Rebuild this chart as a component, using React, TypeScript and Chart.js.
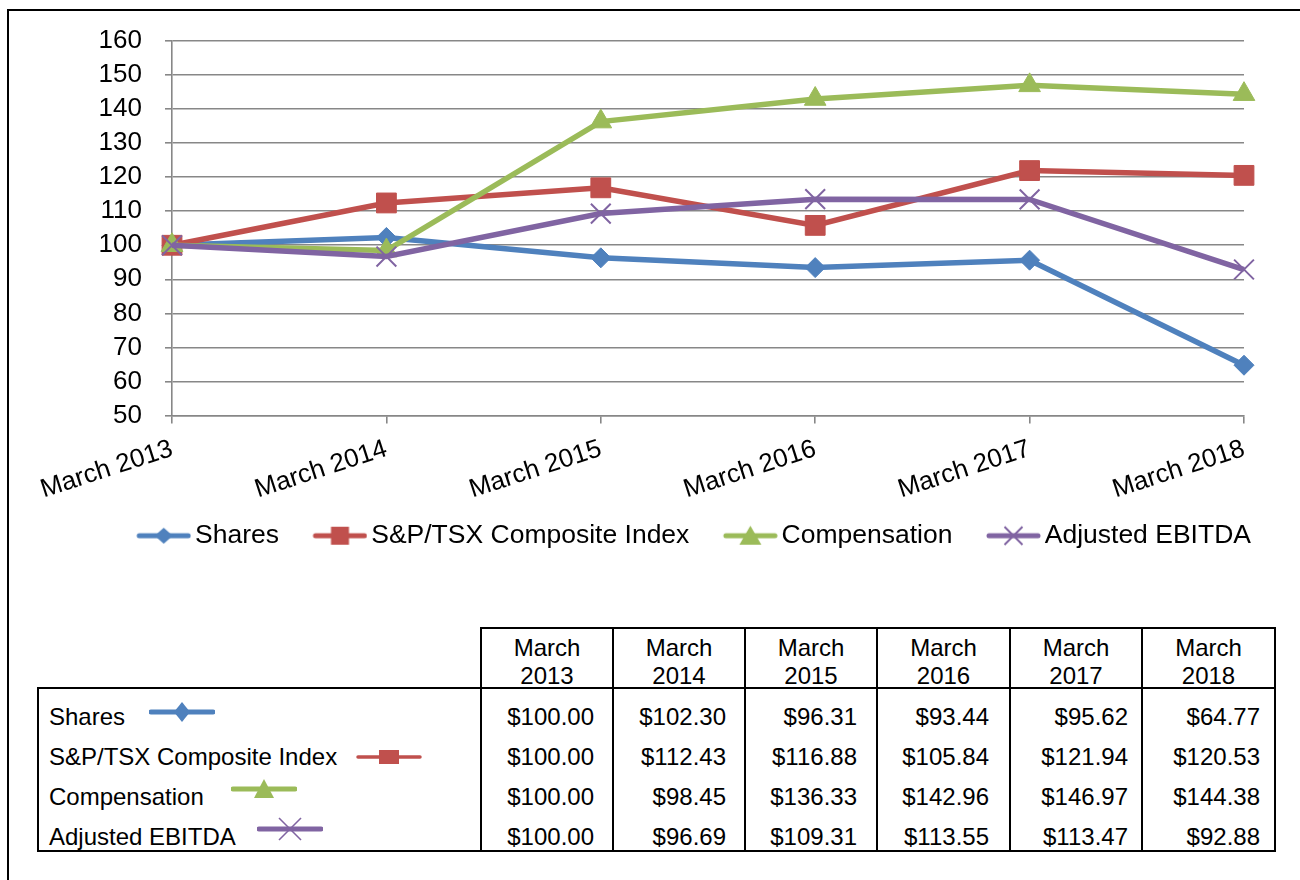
import { useEffect, useRef } from 'react';
import { Chart, registerables } from 'chart.js';

Chart.register(...registerables);

// ---------- data ----------
const categories = ['March 2013', 'March 2014', 'March 2015', 'March 2016', 'March 2017', 'March 2018'];
const seriesNames = ['Shares', 'S&P/TSX Composite Index', 'Compensation', 'Adjusted EBITDA'];
const shares = [100.0, 102.3, 96.31, 93.44, 95.62, 64.77];
const spTsx = [100.0, 112.43, 116.88, 105.84, 121.94, 120.53];
const compensation = [100.0, 98.45, 136.33, 142.96, 146.97, 144.38];
const adjustedEbitda = [100.0, 96.69, 109.31, 113.55, 113.47, 92.88];
const yTicksMin = 50;
const yTicksMax = 160;
const yTicksStep = 10;

// ---------- styles ----------
const seriesValues = [shares, spTsx, compensation, adjustedEbitda];
const seriesColors = ['#4F81BD', '#C0504D', '#9BBB59', '#8064A2'];
const markerKinds = ['diamond', 'square', 'triangle', 'cross'];
const pointStyles = ['rectRot', 'rect', 'triangle', 'crossRot'];
const pointRadii = [10, 14, 12.5, 14];
const GRAY = '#878787';
const FONT = "'Liberation Sans', Arial, sans-serif";

// legend geometry
const LEG_FONT = 26.5;
const LEG_PAD = 12;
const LEG_BOX = 67;
const ICON_W = 55;
const LEG_FIRST_X0 = 136 - 8 - LEG_BOX - LEG_FONT / 2 + 4 + ICON_W; // canvas coords

function makeLegendIcon(kind: string, color: string): HTMLCanvasElement {
  const iconEnd = LEG_BOX + LEG_FONT / 2 - 4; // relative to item x0
  const wi = Math.round(2 * (iconEnd - LEG_BOX / 2));
  const h = 26;
  const c = document.createElement('canvas');
  c.width = wi;
  c.height = h;
  const ctx = c.getContext('2d')!;
  const x0 = wi - ICON_W;
  const cx = x0 + ICON_W / 2;
  const cy = h / 2;
  ctx.strokeStyle = color;
  ctx.fillStyle = color;
  ctx.lineCap = 'round';
  ctx.lineWidth = 5;
  ctx.beginPath();
  ctx.moveTo(x0 + 3, cy);
  ctx.lineTo(wi - 3, cy);
  ctx.stroke();
  ctx.beginPath();
  if (kind === 'diamond') {
    ctx.moveTo(cx - 9, cy);
    ctx.lineTo(cx, cy - 8);
    ctx.lineTo(cx + 9, cy);
    ctx.lineTo(cx, cy + 8);
    ctx.closePath();
    ctx.fill();
  } else if (kind === 'square') {
    ctx.rect(cx - 9, cy - 9, 18, 18);
    ctx.fill();
  } else if (kind === 'triangle') {
    ctx.moveTo(cx, cy - 10);
    ctx.lineTo(cx + 11, cy + 9);
    ctx.lineTo(cx - 11, cy + 9);
    ctx.closePath();
    ctx.fill();
  } else {
    ctx.lineWidth = 2;
    ctx.lineCap = 'butt';
    ctx.moveTo(cx - 9, cy - 9);
    ctx.lineTo(cx + 9, cy + 9);
    ctx.moveTo(cx + 9, cy - 9);
    ctx.lineTo(cx - 9, cy + 9);
    ctx.stroke();
  }
  return c;
}

const legendShift = {
  id: 'legendShift',
  afterLayout(chart: any) {
    const lg: any = chart.legend;
    if (!lg || !lg.lineWidths) return;
    const p = lg.options.labels.padding;
    const natural = (lg.left + p + lg.right - lg.lineWidths[0]) / 2;
    const dx = LEG_FIRST_X0 - natural;
    lg.left += dx;
    lg.right += dx;
  },
};

function TableIcon({ kind, color }: { kind: string; color: string }) {
  const w = 66;
  const h = 24;
  const cy = h / 2;
  const cx = w / 2;
  let marker: any = null;
  if (kind === 'diamond') {
    marker = <polygon points={`${cx - 8},${cy} ${cx},${cy - 10} ${cx + 8},${cy} ${cx},${cy + 10}`} fill={color} />;
  } else if (kind === 'square') {
    marker = <rect x={cx - 10} y={cy - 7} width={20} height={14} fill={color} />;
  } else if (kind === 'triangle') {
    marker = <polygon points={`${cx},${cy - 10} ${cx + 10},${cy + 9} ${cx - 10},${cy + 9}`} fill={color} />;
  } else {
    marker = (
      <g stroke={color} strokeWidth={1.6}>
        <line x1={cx - 11} y1={cy - 11} x2={cx + 11} y2={cy + 11} />
        <line x1={cx + 11} y1={cy - 11} x2={cx - 11} y2={cy + 11} />
      </g>
    );
  }
  return (
    <svg width={w} height={h} style={{ display: 'block' }}>
      <line x1={2} y1={cy} x2={w - 2} y2={cy} stroke={color} strokeWidth={kind === 'square' ? 3.5 : 5} strokeLinecap="round" />
      {marker}
    </svg>
  );
}

// table geometry
const colX = [481, 613, 745, 877, 1010, 1142, 1275];
const rightPads = [19, 19, 20, 21, 14, 15];
const rowCenters = [717, 757, 797, 837];
const iconPos = [
  [149, 712],
  [356, 757],
  [231, 789],
  [257, 829],
];

export default function App() {
  const canvasRef = useRef<HTMLCanvasElement | null>(null);

  useEffect(() => {
    const canvas = canvasRef.current;
    if (!canvas) return;
    const icons = markerKinds.map((k, i) => makeLegendIcon(k, seriesColors[i]));
    const chart = new Chart(canvas, {
      type: 'line',
      data: {
        labels: categories,
        datasets: seriesValues.map((data, i) => ({
          label: seriesNames[i],
          data,
          borderColor: seriesColors[i],
          backgroundColor: seriesColors[i],
          borderWidth: 5.5,
          tension: 0,
          fill: false,
          pointStyle: pointStyles[i] as any,
          pointRadius: pointRadii[i],
          pointHoverRadius: pointRadii[i],
          pointBackgroundColor: seriesColors[i],
          pointBorderColor: seriesColors[i],
          pointBorderWidth: i === 3 ? 2 : 1,
          order: seriesNames.length - i,
          clip: false as any,
        })),
      },
      plugins: [legendShift],
      options: {
        animation: false,
        responsive: false,
        devicePixelRatio: 1,
        events: [],
        layout: { padding: { left: 0, right: 56, top: 31, bottom: 51 } },
        plugins: {
          tooltip: { enabled: false },
          legend: {
            position: 'bottom',
            labels: {
              usePointStyle: true,
              pointStyleWidth: LEG_BOX,
              padding: LEG_PAD,
              color: '#000',
              font: { family: FONT, size: LEG_FONT },
              generateLabels: () =>
                seriesNames.map((name, i) => ({
                  text: name,
                  pointStyle: icons[i] as any,
                  fillStyle: seriesColors[i],
                  strokeStyle: seriesColors[i],
                  lineWidth: 0,
                  hidden: false,
                  datasetIndex: i,
                  fontColor: '#000',
                })),
            },
          },
        },
        scales: {
          x: {
            type: 'category',
            offset: false,
            grid: { drawOnChartArea: false, drawTicks: true, tickLength: 8, color: GRAY, lineWidth: 1.6 },
            border: { display: true, color: GRAY, width: 1.6 },
            ticks: {
              color: '#000',
              font: { family: FONT, size: 26 },
              minRotation: 18,
              maxRotation: 18,
              padding: 10,
              autoSkip: false,
            },
            afterFit: (s: any) => {
              s.height = 95;
            },
          },
          y: {
            min: yTicksMin,
            max: yTicksMax,
            ticks: { stepSize: yTicksStep, color: '#000', font: { family: FONT, size: 26 }, padding: 23, autoSkip: false },
            grid: { color: GRAY, lineWidth: 1.6, tickLength: 7 },
            border: { display: true, color: GRAY, width: 1.6 },
            afterFit: (s: any) => {
              s.width = 164;
              s.paddingTop = 10;
              s.paddingBottom = 10;
            },
          },
        },
      },
    });
    return () => chart.destroy();
  }, []);

  const tableFont: any = { fontFamily: FONT, fontSize: 24, color: '#000' };
  const lines: any[] = [];
  const hLine = (x1: number, x2: number, y: number, key: string) =>
    lines.push(<div key={key} style={{ position: 'absolute', left: x1 - 1, top: y - 1, width: x2 - x1 + 2, height: 2, background: '#000' }} />);
  const vLine = (x: number, y1: number, y2: number, key: string) =>
    lines.push(<div key={key} style={{ position: 'absolute', left: x - 1, top: y1 - 1, width: 2, height: y2 - y1 + 2, background: '#000' }} />);
  hLine(colX[0], colX[colX.length - 1], 628, 'h0');
  hLine(38, colX[colX.length - 1], 688, 'h1');
  hLine(38, colX[colX.length - 1], 851, 'h2');
  vLine(38, 688, 851, 'v0');
  colX.forEach((x, i) => vLine(x, 628, 851, 'vc' + i));

  return (
    <div style={{ position: 'fixed', left: 0, top: 0, width: 1300, height: 880, overflow: 'hidden', background: '#fff' }}>
      <div style={{ position: 'absolute', left: 7, top: 9, width: 2000, height: 2000, borderLeft: '2px solid #000', borderTop: '2px solid #000' }} />
      <div style={{ position: 'absolute', left: 8, top: 10, width: 1292, height: 600 }}>
        <canvas ref={canvasRef} width={1292} height={600} style={{ display: 'block', width: 1292, height: 600 }} />
      </div>
      {lines}
      {categories.map((c, i) => {
        const parts = c.split(' ');
        return (
          <div
            key={'hd' + i}
            style={{ ...tableFont, position: 'absolute', left: colX[i], top: 634, width: colX[i + 1] - colX[i], textAlign: 'center', lineHeight: '28px' }}
          >
            {parts[0]}
            <br />
            {parts[1]}
          </div>
        );
      })}
      {seriesNames.map((name, r) => (
        <div key={'lb' + r} style={{ ...tableFont, position: 'absolute', left: 49, top: rowCenters[r] - 20, lineHeight: '40px', whiteSpace: 'nowrap' }}>
          {name}
        </div>
      ))}
      {markerKinds.map((k, r) => (
        <div key={'ic' + r} style={{ position: 'absolute', left: iconPos[r][0], top: iconPos[r][1] - 12 }}>
          <TableIcon kind={k} color={seriesColors[r]} />
        </div>
      ))}
      {seriesValues.map((vals, r) =>
        vals.map((v, c) => (
          <div
            key={'v' + r + '-' + c}
            style={{
              ...tableFont,
              position: 'absolute',
              left: colX[c],
              width: colX[c + 1] - colX[c] - rightPads[c],
              top: rowCenters[r] - 20,
              lineHeight: '40px',
              textAlign: 'right',
              whiteSpace: 'nowrap',
            }}
          >
            {'$' + v.toFixed(2)}
          </div>
        ))
      )}
    </div>
  );
}
